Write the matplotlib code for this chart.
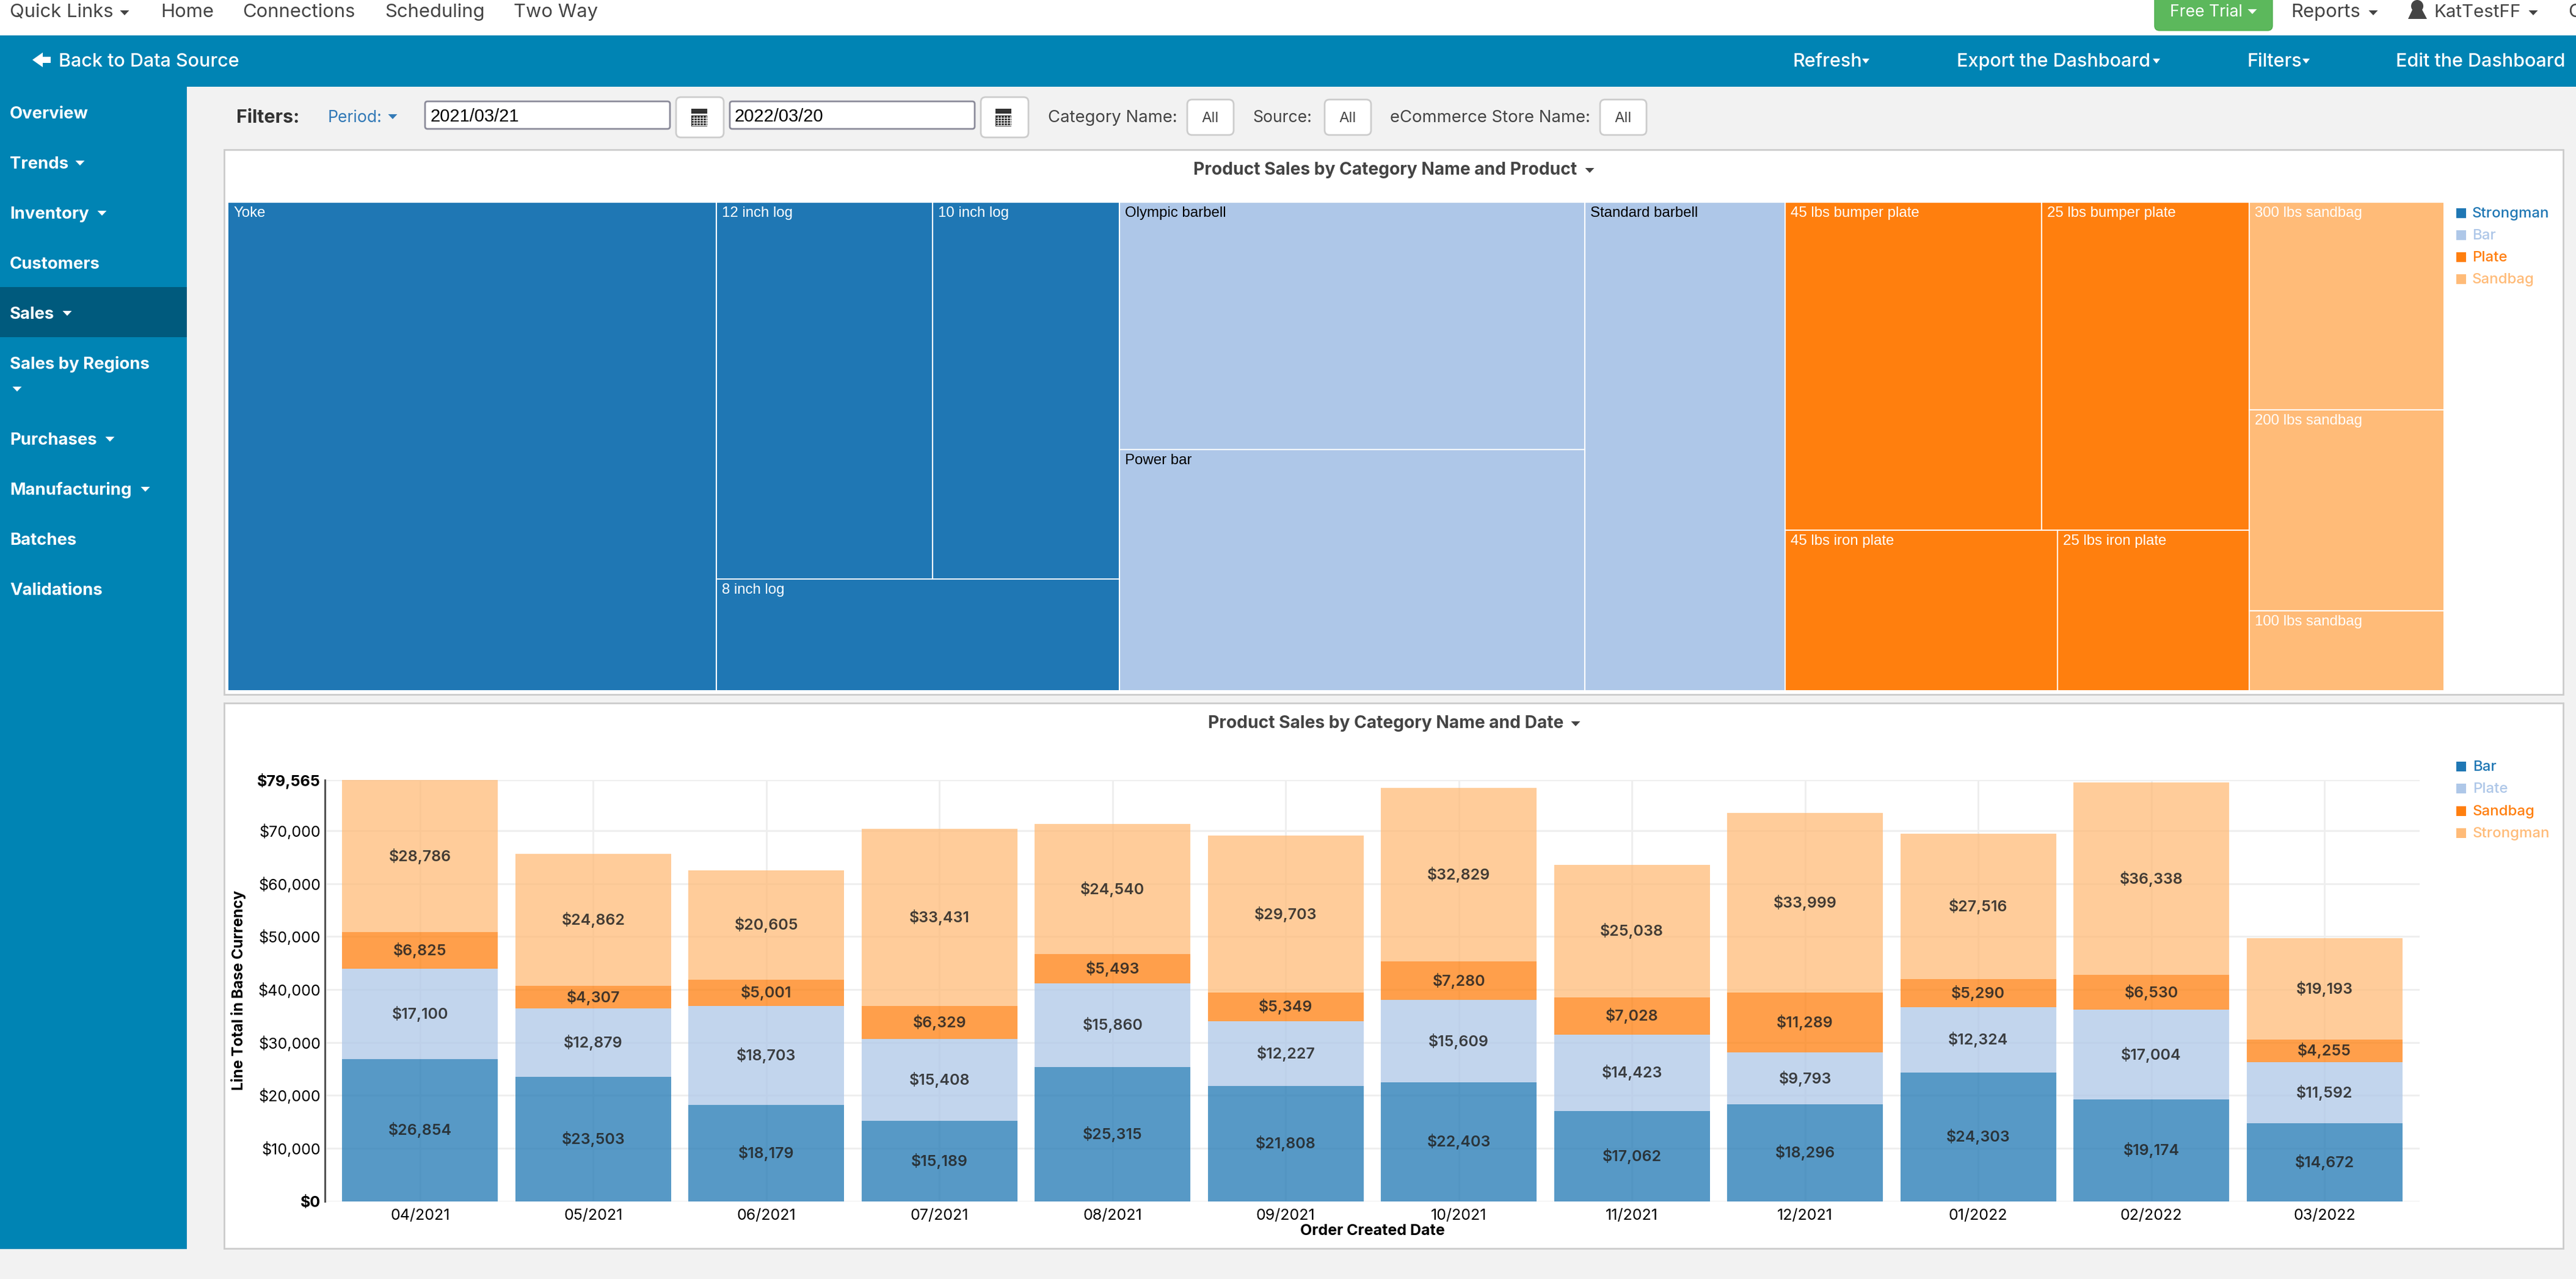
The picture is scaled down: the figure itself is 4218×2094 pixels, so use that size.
import matplotlib
matplotlib.use('Agg')
import matplotlib.pyplot as plt
from matplotlib.patches import Rectangle, FancyBboxPatch, Polygon, Circle
import numpy as np

W, H = 4218, 2094

# bar chart data, stacked bottom to top
months = ['04/2021', '05/2021', '06/2021', '07/2021', '08/2021', '09/2021',
          '10/2021', '11/2021', '12/2021', '01/2022', '02/2022', '03/2022']
bar_sales = [26854, 23503, 18179, 15189, 25315, 21808, 22403, 17062, 18296, 24303, 19174, 14672]
plate_sales = [17100, 12879, 18703, 15408, 15860, 12227, 15609, 14423, 9793, 12324, 17004, 11592]
sandbag_sales = [6825, 4307, 5001, 6329, 5493, 5349, 7280, 7028, 11289, 5290, 6530, 4255]
strongman_sales = [28786, 24862, 20605, 33431, 24540, 29703, 32829, 25038, 33999, 27516, 36338, 19193]
y_ticks = [0, 10000, 20000, 30000, 40000, 50000, 60000, 70000, 79565]

# treemap values
product_names = ['Yoke', '12 inch log', '10 inch log', '8 inch log',
                 'Olympic barbell', 'Power bar', 'Standard barbell',
                 '45 lbs bumper plate', '25 lbs bumper plate', '45 lbs iron plate', '25 lbs iron plate',
                 '300 lbs sandbag', '200 lbs sandbag', '100 lbs sandbag']
product_values = [183080, 62431, 53965, 34645,
                  88281, 86102, 75063,
                  64518, 52229, 33554, 23624,
                  31063, 29986, 11954]

treemap_legend = ['Strongman', 'Bar', 'Plate', 'Sandbag']
bars_legend = ['Bar', 'Plate', 'Sandbag', 'Strongman']
colors = ['#1f77b4', '#aec7e8', '#ff7f0e', '#ffbb78']
label_colors = ['white', 'black', 'white', 'white']

# how the cells are nested: 'h' splits left to right, 'v' top to bottom
tree = [('h', ['Yoke', ('v', [('h', ['12 inch log', '10 inch log']), '8 inch log'])]),
        ('h', [('v', ['Olympic barbell', 'Power bar']), 'Standard barbell']),
        ('v', [('h', ['45 lbs bumper plate', '25 lbs bumper plate']),
               ('h', ['45 lbs iron plate', '25 lbs iron plate'])]),
        ('v', ['300 lbs sandbag', '200 lbs sandbag', '100 lbs sandbag'])]

BLUE = '#0084b4'
GREY = '#f2f2f2'
DARK = '#444444'
UI_FONT = ['Inter', 'DejaVu Sans']
MAC_FONT = ['Liberation Sans', 'DejaVu Sans']


def px(size):
    # font size for a pixel size at dpi 100
    return size * 0.72


fig = plt.figure(figsize=(W / 100, H / 100), dpi=100, facecolor=GREY)

# page chrome goes in a full figure axes, in screen pixels
bg = fig.add_axes([0, 0, 1, 1], zorder=0)
bg.set_xlim(0, W)
bg.set_ylim(H, 0)
bg.axis('off')


def box(x0, y0, x1, y1, color, edge='none', lw=0, z=1):
    bg.add_patch(Rectangle((x0, y0), x1 - x0, y1 - y0, facecolor=color, edgecolor=edge, linewidth=lw, zorder=z))


def button(x0, y0, x1, y1, edge='#cccccc', face='white', r=8):
    bg.add_patch(FancyBboxPatch((x0, y0), x1 - x0, y1 - y0, boxstyle='round,pad=0,rounding_size=%d' % r,
                                facecolor=face, edgecolor=edge, linewidth=2, zorder=2))


def text(x, y, s, size, color=DARK, weight='normal', ha='left', family=UI_FONT, rotation=0):
    # va center sits a little high for these fonts
    bg.text(x, y + 3, s, fontsize=px(size), color=color, fontweight=weight, ha=ha, va='center',
            family=family, rotation=rotation, zorder=5)


def caret(x, y, color=DARK, w=15, h=8):
    bg.add_patch(Polygon([(x - w / 2, y - h / 2), (x + w / 2, y - h / 2), (x, y + h / 2)],
                         facecolor=color, edgecolor='none', zorder=5))


def calendar(x, y):
    box(x - 13, y - 14, x + 13, y + 15, '#333333', z=3)
    box(x - 13, y - 6, x + 13, y - 3, 'white', z=4)
    for gx in np.arange(x - 9, x + 12, 5):
        bg.plot([gx, gx], [y - 2, y + 13], color='white', lw=0.8, zorder=4)
    for gy in np.arange(y + 1, y + 14, 4):
        bg.plot([x - 12, x + 12], [gy, gy], color='white', lw=0.8, zorder=4)


# top white bar
box(0, 0, W, 58, 'white')
text(16, 17, 'Quick Links', 31)
caret(204, 21, DARK)
text(263, 17, 'Home', 31)
text(397, 17, 'Connections', 31)
text(630, 17, 'Scheduling', 31)
text(841, 17, 'Two Way', 31)
bg.add_patch(FancyBboxPatch((3528, -20), 193, 70, boxstyle='round,pad=0,rounding_size=8',
                            facecolor='#5cb85c', edgecolor='#4cae4c', linewidth=1, zorder=2))
text(3553, 17, 'Free Trial', 26.5, color='white')
caret(3688, 19, 'white')
text(3751, 17, 'Reports', 31)
caret(3886, 21, DARK)
bg.add_patch(Circle((3958, 10), 10, facecolor=DARK, zorder=3))
bg.add_patch(Polygon([(3951, 14), (3965, 14), (3974, 31), (3943, 31)], facecolor=DARK, zorder=3))
text(3985, 17, 'KatTestFF', 29.5)
caret(4148, 21, DARK)
text(4205, 17, 'C', 31)

# blue header
box(0, 58, W, 142, BLUE)
bg.add_patch(Polygon([(53, 98), (70, 86), (70, 93), (83, 93), (83, 103), (70, 103), (70, 110)],
                     facecolor='white', zorder=5))
text(96, 98, 'Back to Data Source', 30.5, color='white', weight='medium')
for label, lx, cx in [('Refresh', 2936, 3055), ('Export the Dashboard', 3204, 3531), ('Filters', 3679, 3776)]:
    text(lx, 98, label, 30.5, color='white', weight='medium')
    caret(cx, 100, 'white', w=12)
text(3923, 98, 'Edit the Dashboard', 30.5, color='white', weight='medium')

# sidebar
box(0, 142, 306, 2045, BLUE)
box(0, 470, 306, 552, '#005a7d', z=2)
nav_items = [('Overview', 184, None), ('Trends', 266, 131), ('Inventory', 348, 167), ('Customers', 430, None),
             ('Sales', 512, 110), ('Sales by Regions', 594, None), ('Purchases', 718, 180),
             ('Manufacturing', 800, 238), ('Batches', 882, None), ('Validations', 964, None)]
for label, ny, cx in nav_items:
    text(16, ny, label, 27.5, color='white', weight='bold')
    if cx is not None:
        caret(cx, ny + 1, 'white')
caret(28, 637, 'white')

# filter row
text(387, 190, 'Filters:', 30.5, color='#333333', weight='bold')
text(537, 190, 'Period:', 26.5, color='#337ab7')
caret(643, 191, '#337ab7')
button(696, 166, 1097, 211, edge='#8a8a99', r=4)
text(704, 188, '2021/03/21', 29, color='black', family=MAC_FONT)
button(1107, 159, 1185, 225)
calendar(1145, 192)
button(1195, 166, 1596, 211, edge='#8a8a99', r=4)
text(1203, 188, '2022/03/20', 29, color='black', family=MAC_FONT)
button(1606, 159, 1684, 225)
calendar(1643, 192)
text(1716, 190, 'Category Name:', 27.5)
button(1944, 163, 2020, 221)
text(1982, 191, 'All', 24, ha='center')
text(2051, 190, 'Source:', 26.5)
button(2169, 163, 2245, 221)
text(2207, 191, 'All', 24, ha='center')
text(2276, 190, 'eCommerce Store Name:', 27.5)
button(2620, 163, 2696, 221)
text(2658, 191, 'All', 24, ha='center')

# panels
box(367, 245, 4197, 1137, 'white', edge='#cccccc', lw=2)
box(367, 1151, 4197, 2044, 'white', edge='#cccccc', lw=2)
text(2268, 275, 'Product Sales by Category Name and Product', 28.2, weight='bold', ha='center')
caret(2603, 279, DARK)
text(2269, 1181, 'Product Sales by Category Name and Date', 28.2, weight='bold', ha='center')
caret(2580, 1185, DARK)

# legends
for i, label in enumerate(treemap_legend):
    ly = 349 + 36 * i
    box(4022, ly - 8, 4038, ly + 8, colors[i], z=3)
    text(4048, ly - 2, label, 24, color=colors[i], weight='medium')
for i, label in enumerate(bars_legend):
    ly = 1255 + 36.3 * i
    box(4022, ly - 8, 4038, ly + 8, colors[i], z=3)
    text(4049, ly - 2, label, 24, color=colors[i], weight='medium')


def screen_axes(left, top, right, bottom):
    a = fig.add_axes([left / W, 1 - bottom / H, (right - left) / W, (bottom - top) / H], zorder=2)
    a.patch.set_alpha(0)
    return a


# treemap
values = dict(zip(product_names, product_values))


def total(node):
    if isinstance(node, str):
        return values[node]
    return sum(total(c) for c in node[1])


def draw_cells(node, x0, y0, x1, y1, color, label_color):
    if isinstance(node, str):
        tm.add_patch(Rectangle((x0, y0), x1 - x0, y1 - y0, facecolor=color, edgecolor='white', linewidth=1.5))
        tm.annotate(node, (x0, y0), xytext=(px(9), -px(18)), textcoords='offset points',
                    fontsize=px(24), color=label_color, family=MAC_FONT, va='center')
        return
    direction, children = node
    pos = x0 if direction == 'h' else y0
    span = (x1 - x0) if direction == 'h' else (y1 - y0)
    node_sum = total(node)
    for child in children:
        size = span * total(child) / node_sum
        if direction == 'h':
            draw_cells(child, pos, y0, pos + size, y1, color, label_color)
        else:
            draw_cells(child, x0, pos, x1, pos + size, color, label_color)
        pos += size


tm = screen_axes(373, 331, 4002, 1131)
grand_total = sum(product_values)
tm.set_xlim(0, grand_total)
tm.set_ylim(1, 0)
tm.axis('off')
left_edge = 0
for cat, color, label_color in zip(tree, colors, label_colors):
    right_edge = left_edge + total(cat)
    draw_cells(cat, left_edge, 0, right_edge, 1, color, label_color)
    left_edge = right_edge

# stacked bars
ax = screen_axes(532, 1277, 3962, 1966.5)
x = np.arange(len(months))
ax.set_xlim(-0.55, 11.55)
ax.set_ylim(0, 79565)
ax.set_axisbelow(True)
ax.grid(True, color='#eeeeee', linewidth=2)
bottom = np.zeros(len(months))
for series, color in zip([bar_sales, plate_sales, sandbag_sales, strongman_sales], colors):
    series = np.array(series)
    ax.bar(x, series, bottom=bottom, width=0.9, color=color, alpha=0.75, linewidth=0, zorder=2)
    for xi, yi, v in zip(x, bottom + series / 2, series):
        ax.text(xi, yi, '${:,}'.format(v), ha='center', va='center', fontsize=px(25), fontweight='semibold',
                color='#222222', alpha=0.85, family=UI_FONT, zorder=3)
    bottom += series

for side in ['top', 'right', 'bottom']:
    ax.spines[side].set_visible(False)
ax.spines['left'].set_color(DARK)
ax.spines['left'].set_linewidth(2)
ax.set_xticks(x)
ax.set_xticklabels(months, family=UI_FONT, fontsize=px(25), color='black')
ax.set_yticks(y_ticks)
ax.set_yticklabels(['${:,}'.format(v) for v in y_ticks], family=UI_FONT, fontsize=px(25), color='black')
ax.get_yticklabels()[0].set_fontweight('bold')
ax.get_yticklabels()[-1].set_fontweight('bold')
ax.tick_params(axis='both', length=0)
ax.tick_params(axis='y', pad=px(7))
ax.tick_params(axis='x', pad=px(12))
ax.set_ylabel('Line Total in Base Currency', family=UI_FONT, fontsize=px(24.5), fontweight='bold', labelpad=px(18))
ax.set_xlabel('Order Created Date', family=UI_FONT, fontsize=px(25), fontweight='bold', labelpad=px(2))

fig.savefig('out.png', dpi=100, facecolor=GREY)
